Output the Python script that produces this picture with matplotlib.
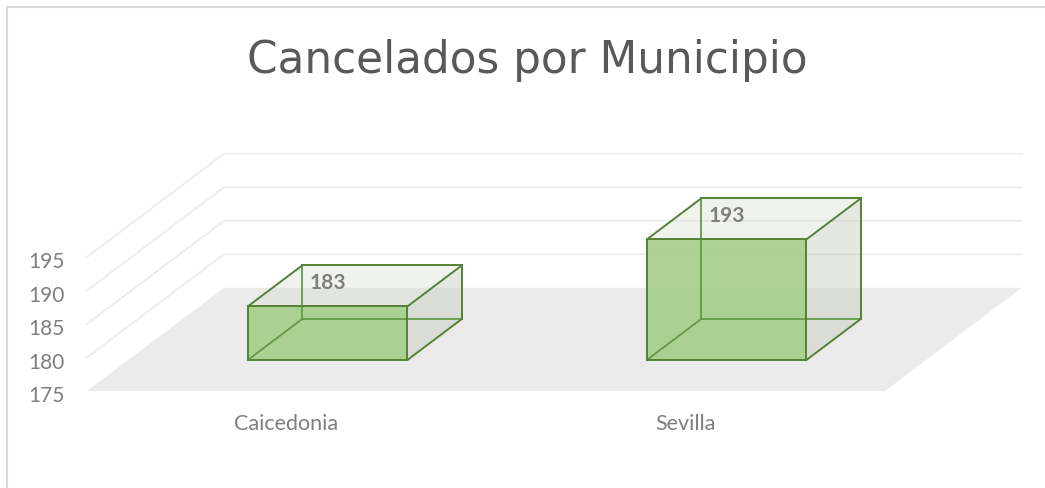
import matplotlib.pyplot as plt
from matplotlib.patches import Polygon
from matplotlib.lines import Line2D

categories = ["Caicedonia", "Sevilla"]
cancelados = [183, 193]
y_ticks = [175, 180, 185, 190, 195]

# oblique 3D look: depth d in [0, 1] shifts right (category units) and up (value units)
DEPTH_DX = 0.343
DEPTH_DY = 15.4
BASE = 175
BAR_W = 0.4
BAR_D0, BAR_D1 = 0.3, 0.7

EDGE = "#548235"
HIDDEN = "#639a48"
FRONT = "#a6cf8b"
TOP = (0.80, 0.835, 0.775)
SIDE = (0.77, 0.80, 0.745)
GRID = "#ececec"
FLOOR = "#ebebeb"
TEXT = "#7f7f7f"


def proj(x, v, d):
    return (x + DEPTH_DX * d, v + DEPTH_DY * d)


fig = plt.figure(figsize=(10.45, 4.89), dpi=100)
ax = fig.add_axes([0, 0, 1, 1])
ax.axis("off")

# map so that the front-left floor corner lands near pixel (87, 392)
px_x = 399.0
px_y = 6.7
ax.set_xlim(-87 / px_x, (1045 - 87) / px_x)
ax.set_ylim(BASE - (489 - 392) / px_y, BASE + 392 / px_y)

n = len(categories)

# floor
floor = [proj(0, BASE, 0), proj(n, BASE, 0), proj(n, BASE, 1), proj(0, BASE, 1)]
ax.add_patch(Polygon(floor, closed=True, facecolor=FLOOR, edgecolor="none", zorder=1))

# side wall and back wall gridlines
for t in y_ticks[1:]:
    p0 = proj(0, t, 0)
    p1 = proj(0, t, 1)
    p2 = proj(n, t, 1)
    ax.plot([p0[0], p1[0], p2[0]], [p0[1], p1[1], p2[1]], color=GRID, lw=1.3,
            solid_joinstyle="miter", zorder=1)

# tick labels
for t in y_ticks:
    ax.annotate(str(t), (0, t), xytext=(-16, -3), textcoords="offset points",
                ha="right", va="center", fontsize=15, color=TEXT, family="Lato")

for i, (cat, val) in enumerate(zip(categories, cancelados)):
    x0 = i + 0.5 - BAR_W / 2
    x1 = i + 0.5 + BAR_W / 2
    c = {}
    for xk, xx in (("l", x0), ("r", x1)):
        for vk, vv in (("b", BASE), ("t", val)):
            for dk, dd in (("f", BAR_D0), ("k", BAR_D1)):
                c[xk + vk + dk] = proj(xx, vv, dd)

    right = [c["rbf"], c["rbk"], c["rtk"], c["rtf"]]
    top = [c["ltf"], c["rtf"], c["rtk"], c["ltk"]]
    front = [c["lbf"], c["rbf"], c["rtf"], c["ltf"]]
    ax.add_patch(Polygon(right, closed=True, facecolor=SIDE, alpha=0.45,
                         edgecolor="none", zorder=3))
    ax.add_patch(Polygon(top, closed=True, facecolor=TOP, alpha=0.3,
                         edgecolor="none", zorder=3))
    ax.add_patch(Polygon(front, closed=True, facecolor=FRONT, alpha=0.92,
                         edgecolor="none", zorder=4))

    # hidden edges, seen through the faces
    for a, b in (("lbk", "rbk"), ("lbk", "ltk"), ("lbk", "lbf")):
        ax.plot([c[a][0], c[b][0]], [c[a][1], c[b][1]], color=HIDDEN, lw=1.3,
                zorder=4.5)

    for a, b in (("lbf", "rbf"), ("rbf", "rtf"), ("rtf", "ltf"), ("ltf", "lbf"),
                 ("ltf", "ltk"), ("ltk", "rtk"), ("rtk", "rtf"),
                 ("rtk", "rbk"), ("rbk", "rbf")):
        ax.plot([c[a][0], c[b][0]], [c[a][1], c[b][1]], color=EDGE, lw=1.4,
                solid_capstyle="round", zorder=5)

    ly = proj(i + 0.5, val, 0.537)[1]
    lx = i + 0.5 + DEPTH_DX * BAR_D0
    ax.text(lx, ly, str(val), ha="center", va="center", fontsize=15,
            fontweight="bold", color=TEXT, family="Lato", zorder=6)

    ax.annotate(cat, (i + 0.5, BASE), xytext=(0, -23), textcoords="offset points",
                ha="center", va="center", fontsize=15.5, color=TEXT, family="Lato")

fig.text(527.5 / 1045, 1 - 73 / 489, "Cancelados por Municipio", ha="center",
         va="baseline", fontsize=31.5, color="#595959", family="DejaVu Sans")

# chart border (top and left edges visible)
fig.add_artist(Line2D([7 / 1045, 1], [1 - 8 / 489, 1 - 8 / 489], color="#d9d9d9",
                      lw=1.5, transform=fig.transFigure))
fig.add_artist(Line2D([7 / 1045, 7 / 1045], [0, 1 - 8 / 489], color="#d9d9d9",
                      lw=1.5, transform=fig.transFigure))

fig.savefig("out.png", dpi=100)
